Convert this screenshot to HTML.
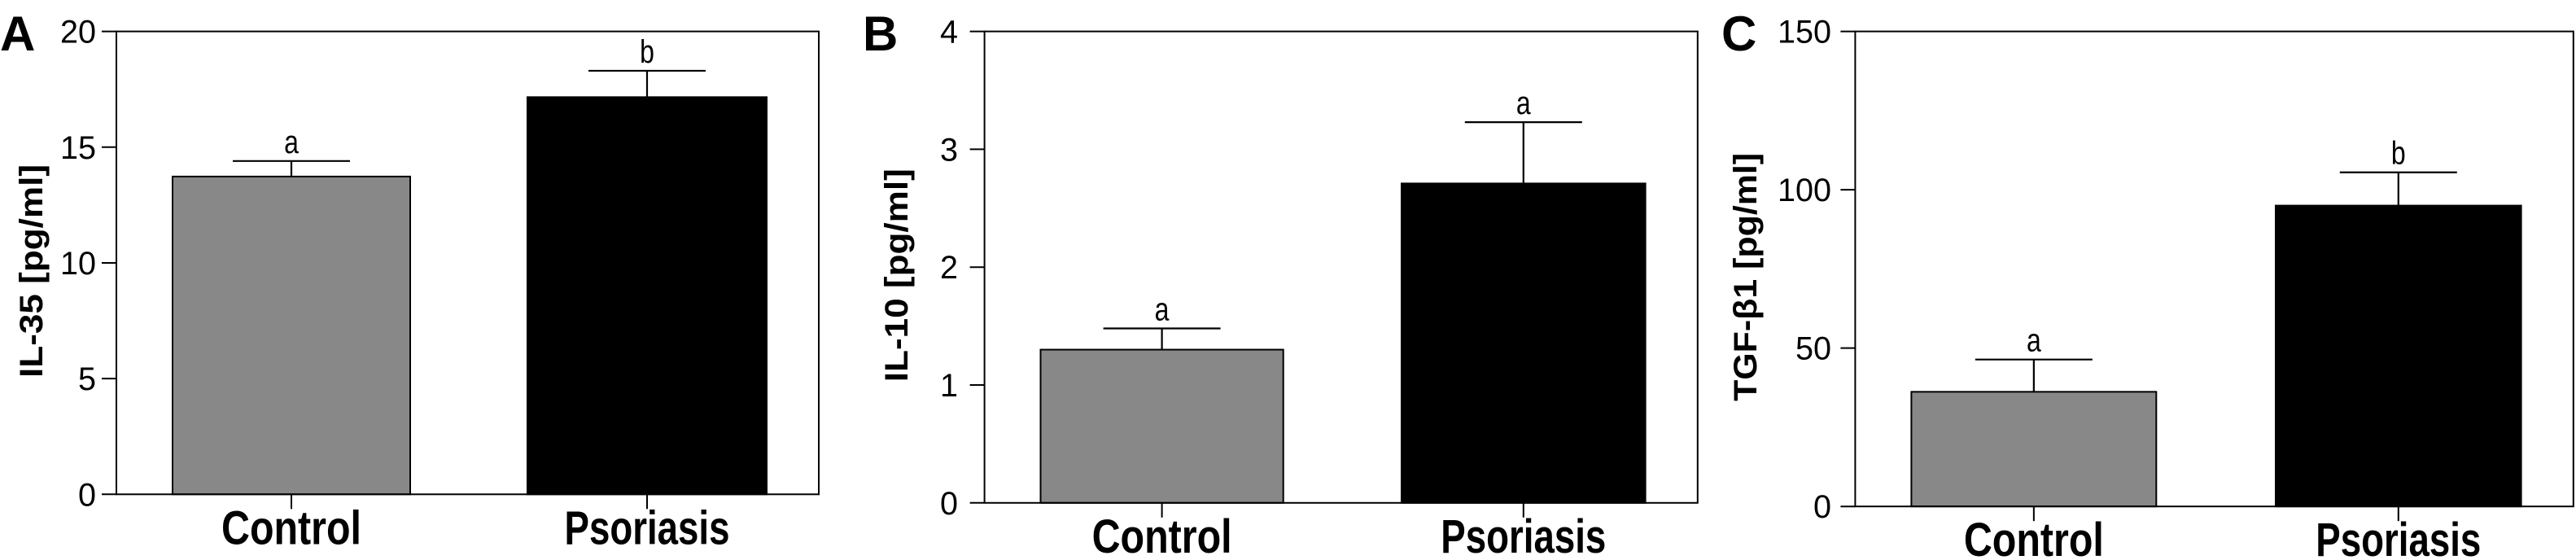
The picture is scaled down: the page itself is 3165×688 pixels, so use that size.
<!DOCTYPE html>
<html><head><meta charset="utf-8">
<style>
html,body{margin:0;padding:0;background:#fff;}
svg{display:block;}
text{font-family:"Liberation Sans",sans-serif;fill:#000;}
</style></head>
<body>
<svg id="chart" width="3165" height="688" viewBox="0 0 3165 688" xmlns="http://www.w3.org/2000/svg"></svg>
<script>
const categories = ["Control", "Psoriasis"];
const il35Values = [13.73, 17.16];
const il35Errors = [14.4, 18.3];
const il35Letters = ["a", "b"];
const il35Ticks = [0, 5, 10, 15, 20];
const il10Values = [1.30, 2.71];
const il10Errors = [1.48, 3.23];
const il10Letters = ["a", "a"];
const il10Ticks = [0, 1, 2, 3, 4];
const tgfValues = [36.2, 95.0];
const tgfErrors = [46.4, 105.5];
const tgfLetters = ["a", "b"];
const tgfTicks = [0, 50, 100, 150];

const NS = "http://www.w3.org/2000/svg";
const svg = document.getElementById("chart");
function mk(tag, attrs, parent) {
  const e = document.createElementNS(NS, tag);
  for (const k in attrs) e.setAttribute(k, attrs[k]);
  (parent || svg).appendChild(e);
  return e;
}

const panels = [
  {id:"a", letter:"A", letterX:0, title:"IL-35 [pg/ml]", titleX:52, titleLen:262,
   left:143, right:1006, top:38.6, bottom:607.3, bars:[[212,504],[648,942]],
   values:il35Values, errs:il35Errors, letters:il35Letters, ticks:il35Ticks, labelRight:118},
  {id:"b", letter:"B", letterX:1060, title:"IL-10 [pg/ml]", titleX:1115, titleLen:262,
   left:1209.6, right:2085.8, top:38.6, bottom:617.8, bars:[[1278.5,1576.7],[1722,2021.6]],
   values:il10Values, errs:il10Errors, letters:il10Letters, ticks:il10Ticks, labelRight:1177},
  {id:"c", letter:"C", letterX:2115, title:"TGF-\u03B21 [pg/ml]", titleX:2158, titleLen:305,
   left:2279.4, right:3161.8, top:38.6, bottom:622.2, bars:[[2348.4,2649.3],[2796,3097.6]],
   values:tgfValues, errs:tgfErrors, letters:tgfLetters, ticks:tgfTicks, labelRight:2250}
];

panels.forEach(p => {
  const g = mk("g", {});
  
  
  const maxV = p.ticks[p.ticks.length - 1];
  const y = v => p.bottom - (v / maxV) * (p.bottom - p.top);

  const lt = mk("text", {x:p.letterX, y:62, "font-size":60, "font-weight":"bold"}, g);
  lt.textContent = p.letter;
  
  

  // bars
  p.values.forEach((v, i) => {
    const [x0, x1] = p.bars[i];
    const r = mk("rect", {x:x0, y:y(v), width:x1 - x0, height:p.bottom - y(v),
      fill: i === 0 ? "#888888" : "#000", stroke:"#000", "stroke-width":2}, g);
    
    
    const cx = (x0 + x1) / 2;
    const eb = mk("path", {d:`M${cx} ${y(v)}V${y(p.errs[i])}M${cx-72} ${y(p.errs[i])}H${cx+72}`,
      stroke:"#000", "stroke-width":2.2, fill:"none"}, g);
    
    
    const sl = mk("text", {x:cx, y:y(p.errs[i]) - 10, "font-size":40, "text-anchor":"middle",
      transform:`translate(${cx},0) scale(0.8,1) translate(${-cx},0)`}, g);
    sl.textContent = p.letters[i];
    
    
    // x tick
    const xt = mk("line", {x1:cx, x2:cx, y1:p.bottom, y2:p.bottom + 18, stroke:"#000", "stroke-width":2}, g);
    
    
    const cl = mk("text", {x:cx, y:p.bottom + 61, "font-size":58, "font-weight":"bold", "text-anchor":"middle",
      textLength: i === 0 ? 172 : 203, lengthAdjust:"spacingAndGlyphs"}, g);
    cl.textContent = categories[i];
    
    
  });

  // frame
  const fr = mk("rect", {x:p.left, y:p.top, width:p.right - p.left, height:p.bottom - p.top,
    fill:"none", stroke:"#000", "stroke-width":2}, g);
  
  

  // y ticks
  p.ticks.forEach(t => {
    const ty = y(t);
    const tl = mk("line", {x1:p.left - 18, x2:p.left, y1:ty, y2:ty, stroke:"#000", "stroke-width":2}, g);
    
    
    const s = String(t);
    const tt = mk("text", {x:p.labelRight, y:ty + 14, "font-size":40, "text-anchor":"end",
      textLength: s.length * 22, lengthAdjust:"spacingAndGlyphs"}, g);
    tt.textContent = s;
    
    
  });

  // y title
  const cy = (p.top + p.bottom) / 2 + 10;
  const yt = mk("text", {x:p.titleX, y:cy, "font-size":40, "font-weight":"bold", "text-anchor":"middle",
    textLength:p.titleLen, lengthAdjust:"spacingAndGlyphs",
    transform:`rotate(-90 ${p.titleX} ${cy})`}, g);
  yt.textContent = p.title;
  
  
});
</script>
</body></html>
